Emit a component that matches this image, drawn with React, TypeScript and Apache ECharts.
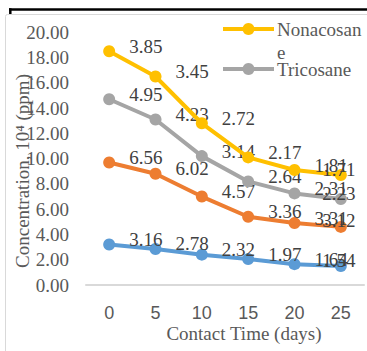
import React, { useEffect, useRef } from "react";
import * as echarts from "echarts";

const categories = ["0", "5", "10", "15", "20", "25"];
const seriesNames = ["Nonacosane", "Tricosane", "Series3", "Series4"];
const nonacosane = [18.5, 16.5, 12.8, 10.1, 9.1, 8.7];
const tricosane = [14.7, 13.1, 10.2, 8.2, 7.25, 6.8];
const series3 = [9.7, 8.8, 7.0, 5.4, 4.9, 4.6];
const series4 = [3.2, 2.85, 2.4, 2.05, 1.65, 1.5];
const nonacosaneLabels = ["3.85", "3.45", "2.72", "2.17", "1.81", "1.71"];
const tricosaneLabels = ["4.95", "4.23", "3.14", "2.64", "2.31", "2.23"];
const series3Labels = ["6.56", "6.02", "4.57", "3.36", "3.31", "3.12"];
const series4Labels = ["3.16", "2.78", "2.32", "1.97", "1.64", "1.54"];
const yTicks = { min: 0, max: 20, interval: 2 };

const COLORS = ["#FFC000", "#A5A5A5", "#ED7D31", "#5B9BD5"];
const SERIF = "serif";
const SANS = "sans-serif";

export default function App() {
  const ref = useRef<HTMLDivElement>(null);
  useEffect(() => {
    if (!ref.current) return;
    const chart = echarts.init(ref.current, null, { renderer: "svg" });
    const values = [nonacosane, tricosane, series3, series4];
    const labels = [nonacosaneLabels, tricosaneLabels, series3Labels, series4Labels];
    const series = values.map((vals, si) => ({
      name: seriesNames[si],
      type: "line",
      data: vals.map((v, i) =>
        i === vals.length - 1
          ? { value: v, label: { position: "inside", offset: [-2, -6] } }
          : v
      ),
      symbol: "circle",
      symbolSize: 12,
      lineStyle: { width: 4, color: COLORS[si] },
      itemStyle: { color: COLORS[si] },
      label: {
        show: true,
        position: "right",
        distance: 14,
        offset: [0, -5],
        fontFamily: SERIF,
        fontSize: 19,
        color: "#404040",
        formatter: (p: any) => labels[si][p.dataIndex],
      },
      z: 10 - si,
    }));

    const legendItems = [0, 1].map((si, k) => {
      const y = k === 0 ? 29 : 69;
      return {
        type: "group",
        children: [
          { type: "line", shape: { x1: 223, y1: y, x2: 274, y2: y }, style: { stroke: COLORS[si], lineWidth: 4 } },
          { type: "circle", shape: { cx: 248.5, cy: y, r: 6 }, style: { fill: COLORS[si] } },
          {
            type: "text",
            x: 277,
            y: y - 11.5,
            style: {
              text: seriesNames[si],
              width: 88,
              overflow: "breakAll",
              lineHeight: 23,
              fontFamily: SERIF,
              fontSize: 19,
              fill: "#595959",
            },
          },
        ],
      };
    });

    chart.setOption({
      animation: false,
      backgroundColor: "#ffffff",
      grid: { left: 86, right: 3, top: 32.3, bottom: 66, containLabel: false },
      xAxis: {
        type: "category",
        data: categories,
        boundaryGap: true,
        axisLine: { lineStyle: { color: "#D9D9D9", width: 2 } },
        axisTick: { show: false },
        axisLabel: { fontFamily: SANS, fontSize: 18, color: "#595959", margin: 19 },
      },
      yAxis: {
        type: "value",
        min: yTicks.min,
        max: yTicks.max,
        interval: yTicks.interval,
        axisLine: { show: false },
        axisTick: { show: false },
        splitLine: { show: false },
        axisLabel: {
          fontFamily: SERIF,
          fontSize: 19,
          color: "#595959",
          margin: 17,
          formatter: (v: number) => v.toFixed(2),
        },
      },
      series,
      graphic: [
        { type: "rect", shape: { x: 5.5, y: 14.5, width: 400, height: 400, r: 2 }, style: { fill: "none", stroke: "#D9D9D9", lineWidth: 1 }, z: -1 },
        { type: "line", shape: { x1: 9, y1: 9.5, x2: 367, y2: 9.5 }, style: { stroke: "#000000", lineWidth: 2.7 } },
        { type: "line", shape: { x1: 10.3, y1: 8.3, x2: 10.3, y2: 14 }, style: { stroke: "#000000", lineWidth: 2.5 } },
        {
          type: "text",
          x: 22,
          y: 171,
          rotation: Math.PI / 2,
          style: {
            text: "Concentration, 10⁴ (ppm)",
            fontFamily: SERIF,
            fontSize: 19,
            fill: "#595959",
            align: "center",
            verticalAlign: "middle",
          },
        },
        {
          type: "text",
          x: 244,
          y: 333,
          style: {
            text: "Contact Time (days)",
            fontFamily: SERIF,
            fontSize: 19,
            fill: "#595959",
            align: "center",
            verticalAlign: "middle",
          },
        },
        ...legendItems,
      ],
    });
    return () => chart.dispose();
  }, []);
  return (
    <div
      ref={ref}
      style={{ position: "fixed", left: 0, top: 0, width: 367, height: 351, background: "#fff" }}
    />
  );
}
